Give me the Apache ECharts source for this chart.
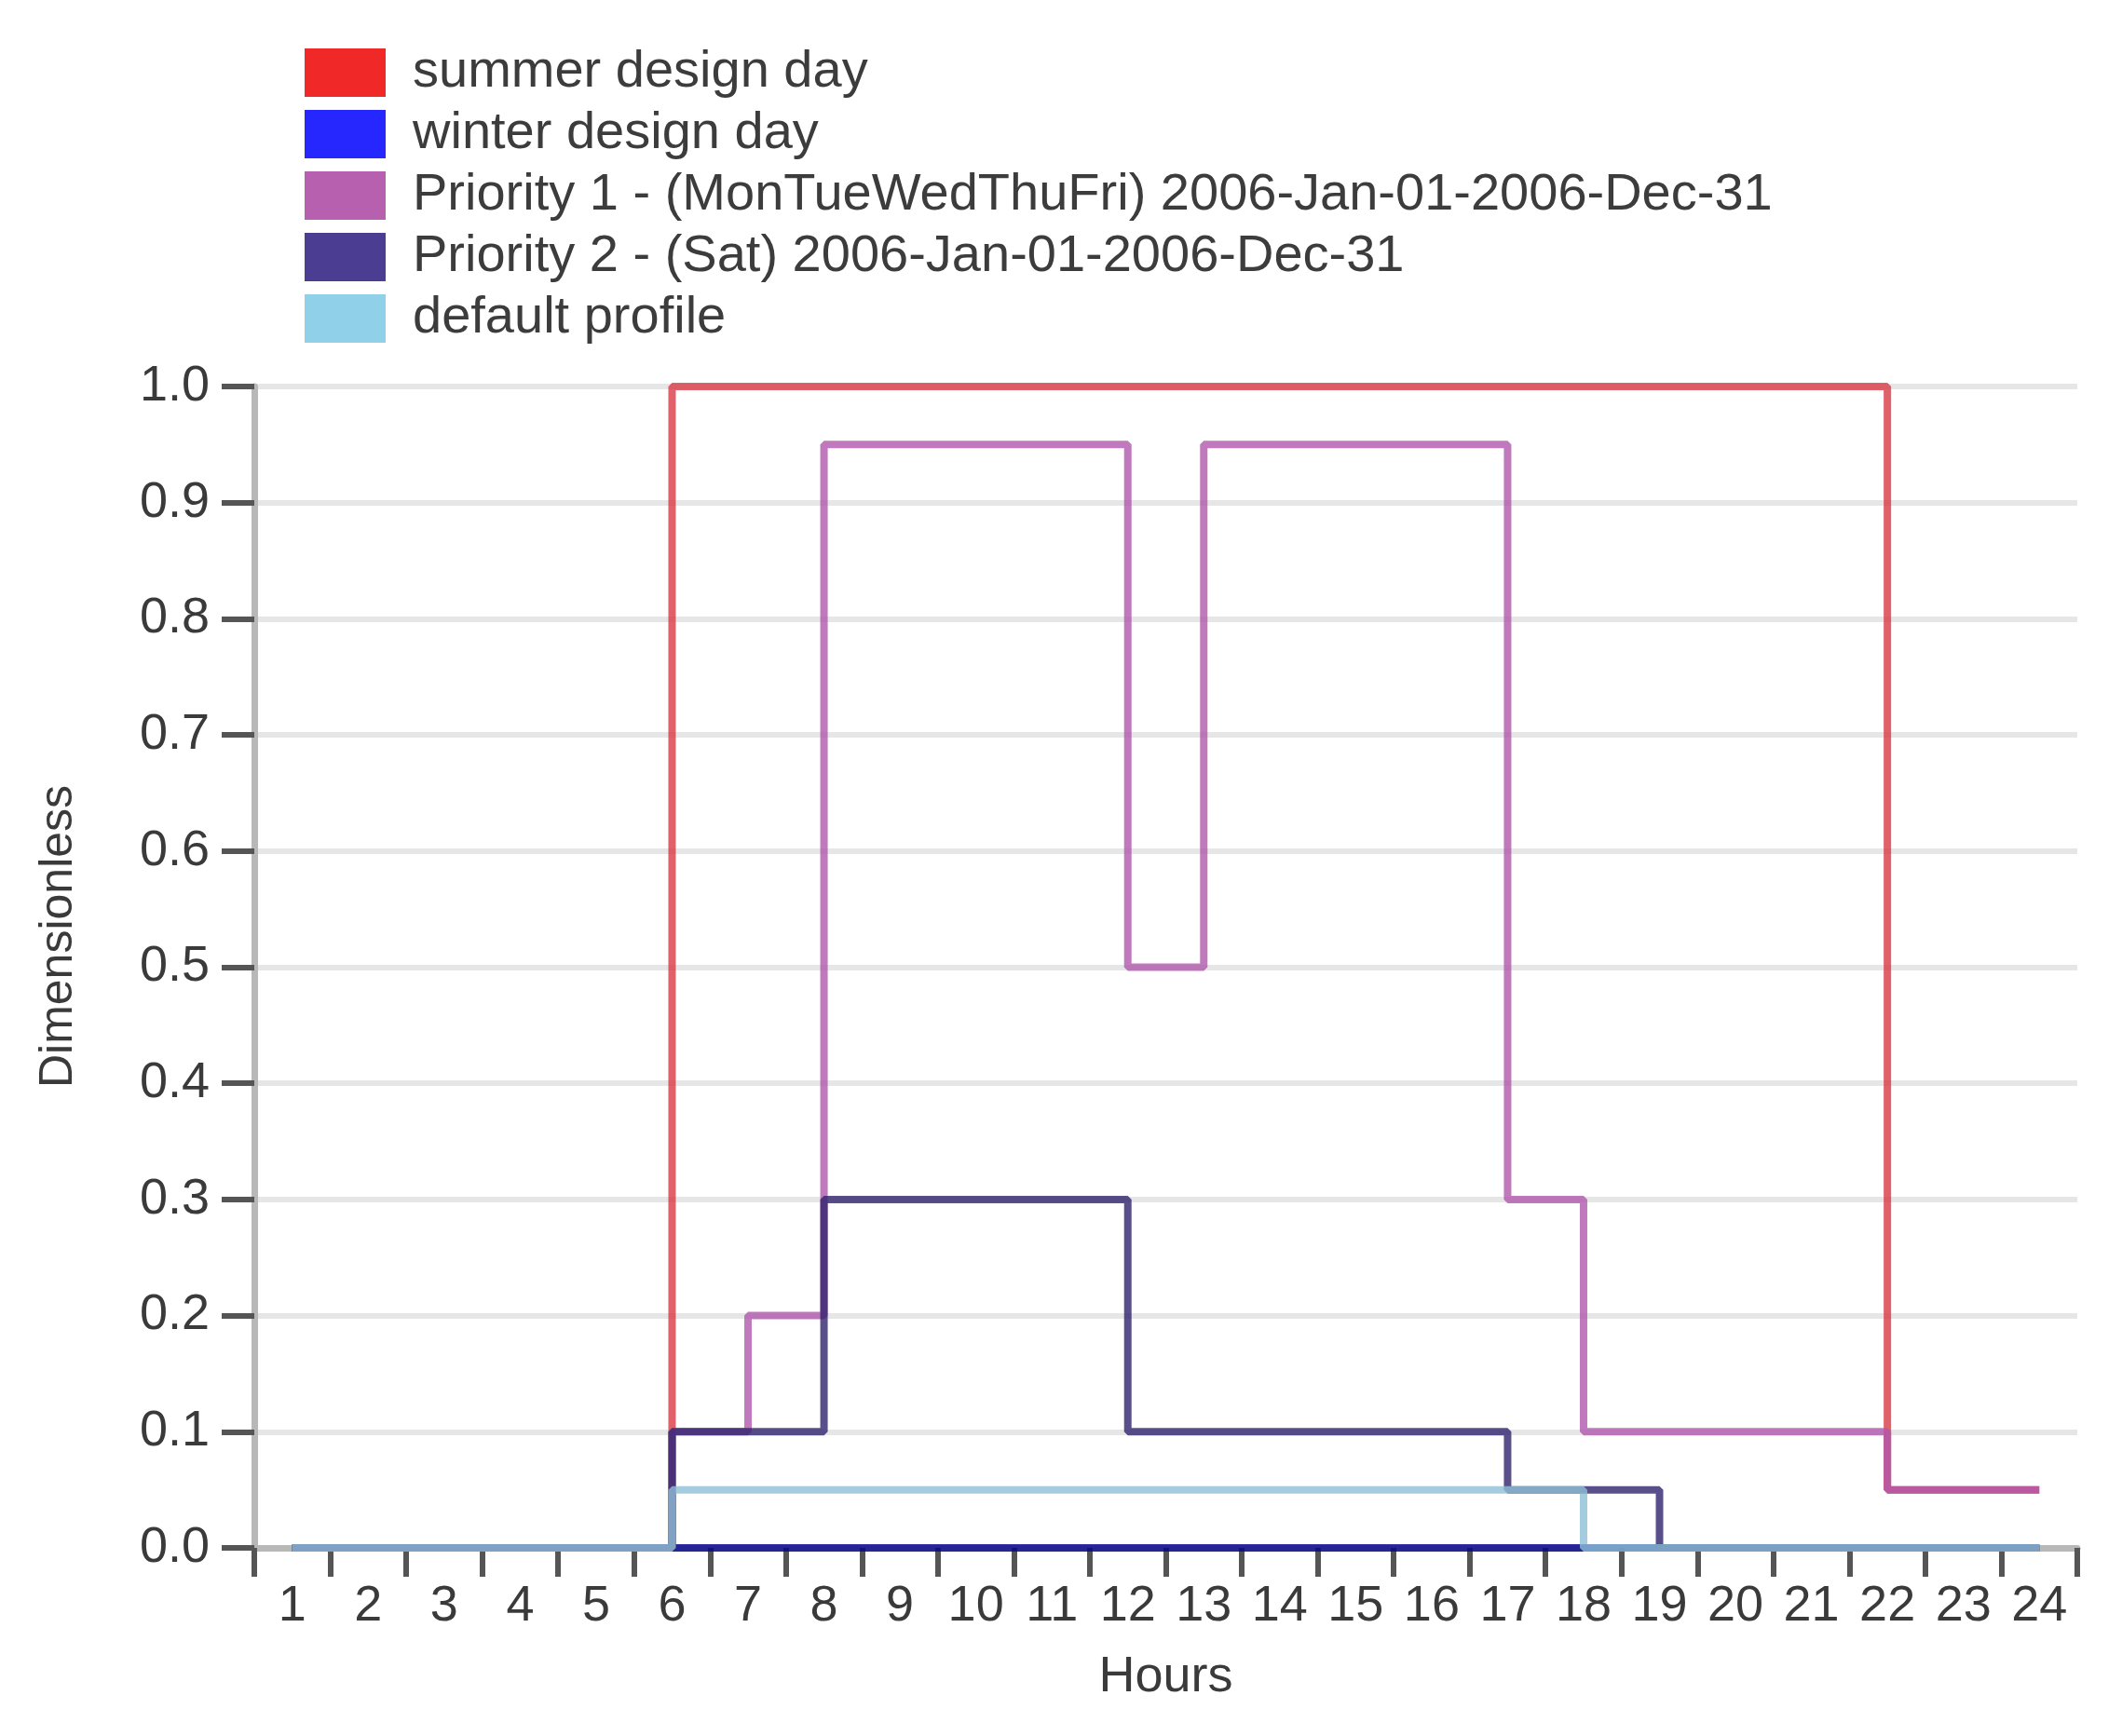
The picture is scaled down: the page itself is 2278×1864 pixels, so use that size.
<!DOCTYPE html>
<html>
<head>
<meta charset="utf-8">
<script src="https://cdn.jsdelivr.net/npm/echarts@6/dist/echarts.min.js"></script>
<style>
html,body{margin:0;padding:0;background:#fff;}
#chart{width:2278px;height:1864px;}
</style>
</head>
<body>
<div id="chart"></div>
<script>
// Hours (category labels)
const hours = ['1','2','3','4','5','6','7','8','9','10','11','12','13','14','15','16','17','18','19','20','21','22','23','24'];
// Series names
const seriesNames = ['summer design day','winter design day','Priority 1 - (MonTueWedThuFri) 2006-Jan-01-2006-Dec-31','Priority 2 - (Sat) 2006-Jan-01-2006-Dec-31','default profile'];
// Values per hour (value held during the hour ending at the label)
const summerDesignDay = [0,0,0,0,0,0,1,1,1,1,1,1,1,1,1,1,1,1,1,1,1,1,0.05,0.05];
const winterDesignDay = [0,0,0,0,0,0,0,0,0,0,0,0,0,0,0,0,0,0,0,0,0,0,0,0];
const priority1 = [0,0,0,0,0,0,0.1,0.2,0.95,0.95,0.95,0.95,0.5,0.95,0.95,0.95,0.95,0.3,0.1,0.1,0.1,0.1,0.05,0.05];
const priority2 = [0,0,0,0,0,0,0.1,0.1,0.3,0.3,0.3,0.3,0.1,0.1,0.1,0.1,0.1,0.05,0.05,0,0,0,0,0];
const defaultProfile = [0,0,0,0,0,0,0.05,0.05,0.05,0.05,0.05,0.05,0.05,0.05,0.05,0.05,0.05,0.05,0,0,0,0,0,0];

const allData = [summerDesignDay, winterDesignDay, priority1, priority2, defaultProfile];
const legendColors = ['#f02828','#2626ff','#b860b0','#4a3d92','#90d0e8'];
const lineColors = ['#d83a45','#00008b','#b058ac','#30246e','#8fbfd6'];

const FONT = 'Liberation Sans, Arial, sans-serif';
const chart = echarts.init(document.getElementById('chart'), null, {renderer:'canvas'});

const series = seriesNames.map((name, i) => ({
  name: name,
  type: 'line',
  step: 'start',
  data: allData[i],
  symbol: 'none',
  showSymbol: false,
  animation: false,
  itemStyle: { color: legendColors[i] },
  lineStyle: { color: lineColors[i], width: 8, opacity: 0.8 },
  z: 2 + i
}));

chart.setOption({
  backgroundColor: '#ffffff',
  animation: false,
  legend: {
    orient: 'vertical',
    left: 327,
    top: 50,
    padding: 0,
    itemWidth: 87,
    itemHeight: 52,
    itemGap: 10,
    icon: 'rect',
    itemStyle: { borderWidth: 0 },
    textStyle: { fontSize: 56, fontFamily: FONT, color: '#3c3c3c', padding: [0,0,0,24] },
    data: seriesNames
  },
  grid: { left: 273, right: 48, top: 415, bottom: 202, containLabel: false },
  xAxis: {
    type: 'category',
    data: hours,
    boundaryGap: true,
    name: 'Hours',
    nameLocation: 'middle',
    nameGap: 112,
    nameTextStyle: { fontSize: 54, fontFamily: FONT, color: '#3a3a3a' },
    axisLine: { show: true, lineStyle: { color: '#b8b8b8', width: 7 } },
    axisTick: { show: true, alignWithLabel: false, interval: 0, length: 31, lineStyle: { color: '#555', width: 6 } },
    axisLabel: { interval: 0, fontSize: 54, fontFamily: FONT, color: '#3a3a3a', margin: 36 },
    splitLine: { show: false }
  },
  yAxis: {
    type: 'value',
    min: 0,
    max: 1,
    interval: 0.1,
    name: 'Dimensionless',
    nameLocation: 'middle',
    nameGap: 185,
    nameTextStyle: { fontSize: 50, fontFamily: FONT, color: '#3a3a3a', padding: [0, 0, 0, 66] },
    axisLine: { show: true, lineStyle: { color: '#b8b8b8', width: 7 } },
    axisTick: { show: true, length: 35, lineStyle: { color: '#555', width: 6 } },
    axisLabel: { fontSize: 54, fontFamily: FONT, color: '#3a3a3a', margin: 48, formatter: v => v.toFixed(1) },
    splitLine: { show: true, lineStyle: { color: '#e6e6e6', width: 6 } }
  },
  series: series
});
</script>
</body>
</html>
